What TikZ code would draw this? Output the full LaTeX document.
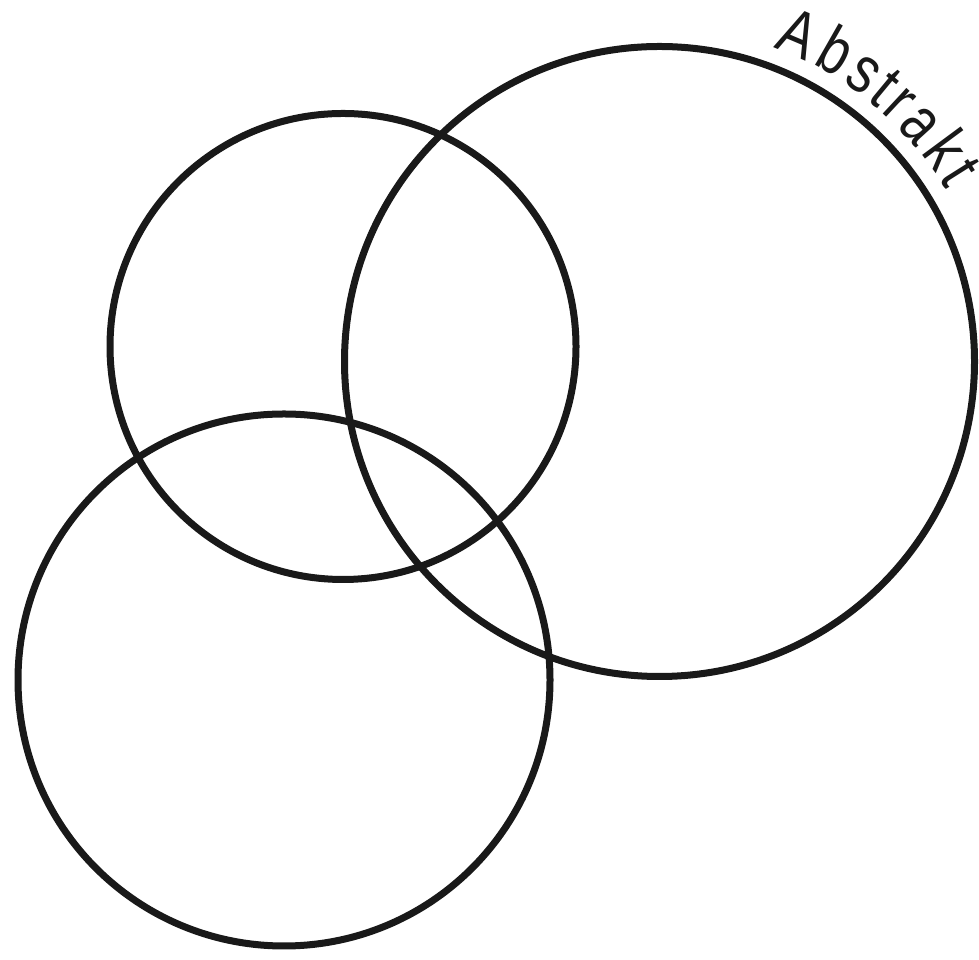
\documentclass[tikz,border=0pt]{standalone}
\usepackage{fontspec}
\usetikzlibrary{decorations.text,calc}
\newfontfamily\abstrfont{Liberation Sans}[FakeStretch=0.8]
\begin{document}
\begin{tikzpicture}[x=1pt,y=1pt,
  ring/.style={circle,draw=black!90,line width=7pt,inner sep=0pt,outer sep=0pt}]
\useasboundingbox (0,0) rectangle (979,960);
\node[ring,minimum size=630pt] (big) at (659.5,598.5) {};
\node[ring,minimum size=466pt] (upper) at (343,613.5) {};
\node[ring,minimum size=532pt] (lower) at (284,280) {};
\path[decorate,decoration={text effects along path,text={Abstrakt},
  text effects/.cd, fit text to path,
  characters={font=\abstrfont\fontsize{66pt}{66pt}\selectfont,text=black!90,
    inner sep=0pt,anchor=base,transform shape}}]
  ($(big.center)+(70:334)$) arc[start angle=70,end angle=31,radius=334];
\end{tikzpicture}
\end{document}
